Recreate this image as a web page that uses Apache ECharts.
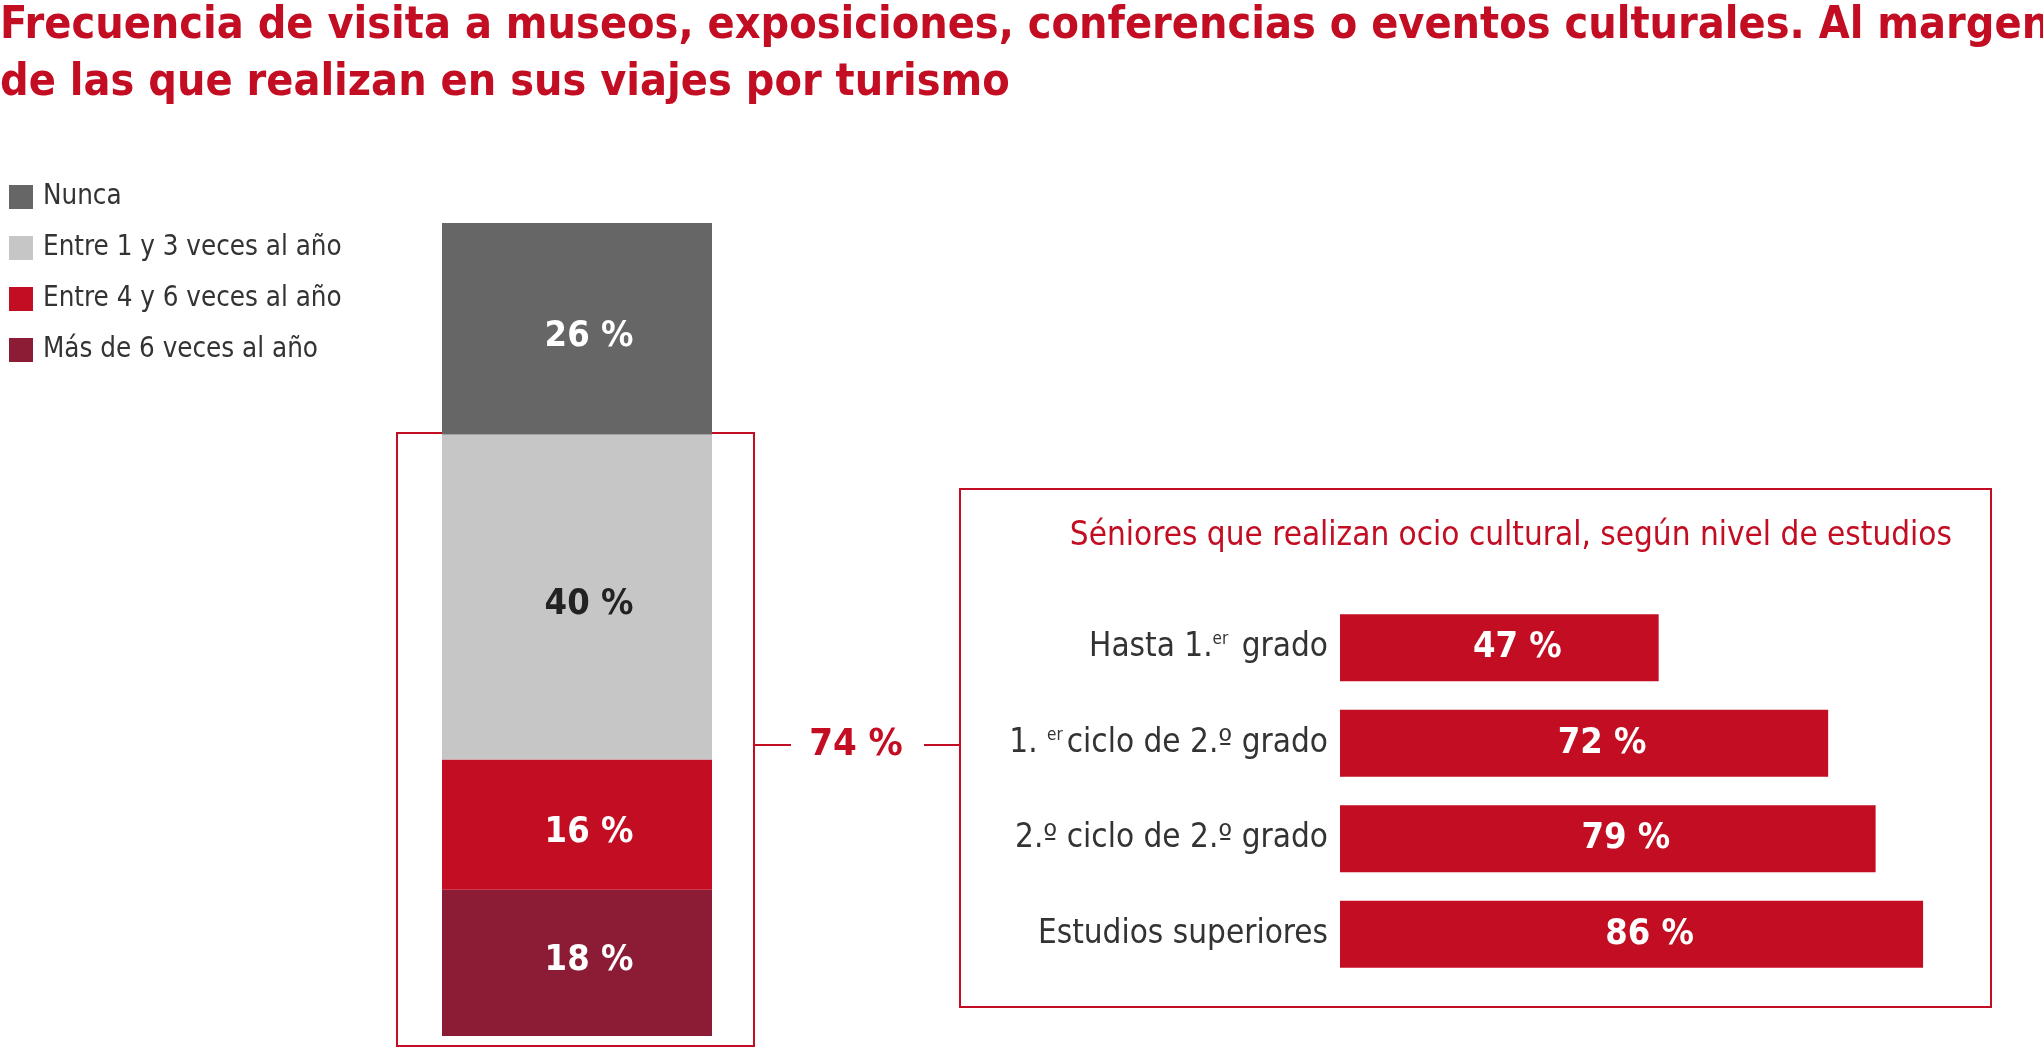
<!DOCTYPE html>
<html>
<head>
<meta charset="utf-8">
<script src="https://cdn.jsdelivr.net/npm/echarts@6/dist/echarts.min.js"></script>
<style>
  html, body { margin: 0; padding: 0; background: #fff; }
  #chart { width: 2043px; height: 1049px; }
</style>
</head>
<body>
<div id="chart"></div>
<script>
// datos
const freqLabels = ['Nunca', 'Entre 1 y 3 veces al año', 'Entre 4 y 6 veces al año', 'Más de 6 veces al año']
const freqValues = [26, 40, 16, 18]
const freqColors = ['#666666', '#c6c6c6', '#c30d23', '#8c1c35']

const studyLevels = ['Hasta 1.{sup|er} grado', '1. {sup|er}ciclo de 2.º grado', '2.º ciclo de 2.º grado', 'Estudios superiores']
const studyValues = [47, 72, 79, 86]

const FONT = '"Liberation Sans Narrow", "DejaVu Sans Condensed", Roboto, sans-serif'
const RED = '#c30d23'

const myChart = echarts.init(document.getElementById('chart'))

// apilado: el primero va abajo
const stackOrder = [3, 2, 1, 0]
const stackSeries = stackOrder.map(i => ({
    name: freqLabels[i],
    type: 'bar',
    stack: 'freq',
    xAxisIndex: 0,
    yAxisIndex: 0,
    barWidth: '100%',
    data: [freqValues[i]],
    itemStyle: { color: freqColors[i] },
    label: {
        show: true,
        position: 'inside',
        offset: [12, i === 3 ? -2 : 8],
        formatter: '{c} %',
        fontFamily: FONT,
        fontWeight: 'bold',
        fontSize: 36,
        color: i === 1 ? '#222' : '#fff'
    }
}))

const cultural = freqValues[1] + freqValues[2] + freqValues[3]

myChart.setOption({
    animation: false,
    textStyle: { fontFamily: FONT },
    title: {
        text: 'Frecuencia de visita a museos, exposiciones, conferencias o eventos culturales. Al margen\nde las que realizan en sus viajes por turismo',
        left: 0,
        top: -2,
        padding: 0,
        textStyle: {
            fontFamily: FONT,
            fontWeight: 'bold',
            fontSize: 44.5,
            lineHeight: 57,
            color: RED
        }
    },
    legend: {
        orient: 'vertical',
        left: 9,
        top: 183,
        padding: 0,
        itemWidth: 24,
        itemHeight: 24,
        itemGap: 23,
        icon: 'rect',
        data: freqLabels,
        selectedMode: false,
        textStyle: { fontFamily: FONT, fontSize: 27.5, color: '#333', padding: [0, 0, 0, 5] }
    },
    grid: [
        { left: 442, top: 223, width: 270, height: 813 },
        { left: 1340, top: 600, width: 678, height: 382 }
    ],
    xAxis: [
        { type: 'category', gridIndex: 0, data: [''], show: false },
        { type: 'value', gridIndex: 1, min: 0, max: 100, show: false }
    ],
    yAxis: [
        { type: 'value', gridIndex: 0, min: 0, max: 100, show: false },
        {
            type: 'category',
            gridIndex: 1,
            data: studyLevels,
            inverse: true,
            axisLine: { show: false },
            axisTick: { show: false },
            axisLabel: {
                margin: 12,
                fontFamily: FONT,
                fontSize: 33,
                color: '#333',
                rich: {
                    sup: { fontSize: 17, verticalAlign: 'top', padding: [0, 4, 14, 0], color: '#333' }
                }
            }
        }
    ],
    series: [
        ...stackSeries,
        {
            name: 'Séniores',
            type: 'bar',
            xAxisIndex: 1,
            yAxisIndex: 1,
            barWidth: 67,
            data: studyValues,
            itemStyle: { color: RED },
            label: {
                show: true,
                position: 'inside',
                offset: [18, 0],
                formatter: '{c} %',
                fontFamily: FONT,
                fontWeight: 'bold',
                fontSize: 36,
                color: '#fff'
            }
        }
    ],
    graphic: [
        {
            type: 'rect',
            shape: { x: 397, y: 433, width: 357, height: 613 },
            style: { fill: 'none', stroke: RED, lineWidth: 2 }
        },
        {
            type: 'line',
            shape: { x1: 754, y1: 745, x2: 791, y2: 745 },
            style: { stroke: RED, lineWidth: 2 }
        },
        {
            type: 'text',
            x: 856,
            y: 745,
            style: {
                text: cultural + ' %',
                fontFamily: FONT,
                fontWeight: 'bold',
                fontSize: 38,
                fill: RED,
                align: 'center',
                verticalAlign: 'middle'
            }
        },
        {
            type: 'line',
            shape: { x1: 924, y1: 745, x2: 960, y2: 745 },
            style: { stroke: RED, lineWidth: 2 }
        },
        {
            type: 'rect',
            shape: { x: 960, y: 489, width: 1031, height: 518 },
            style: { fill: 'none', stroke: RED, lineWidth: 2 }
        },
        {
            type: 'text',
            x: 1952,
            y: 536,
            style: {
                text: 'Séniores que realizan ocio cultural, según nivel de estudios',
                fontFamily: FONT,
                fontSize: 33,
                fill: RED,
                align: 'right',
                verticalAlign: 'middle'
            }
        }
    ]
})
</script>
</body>
</html>
